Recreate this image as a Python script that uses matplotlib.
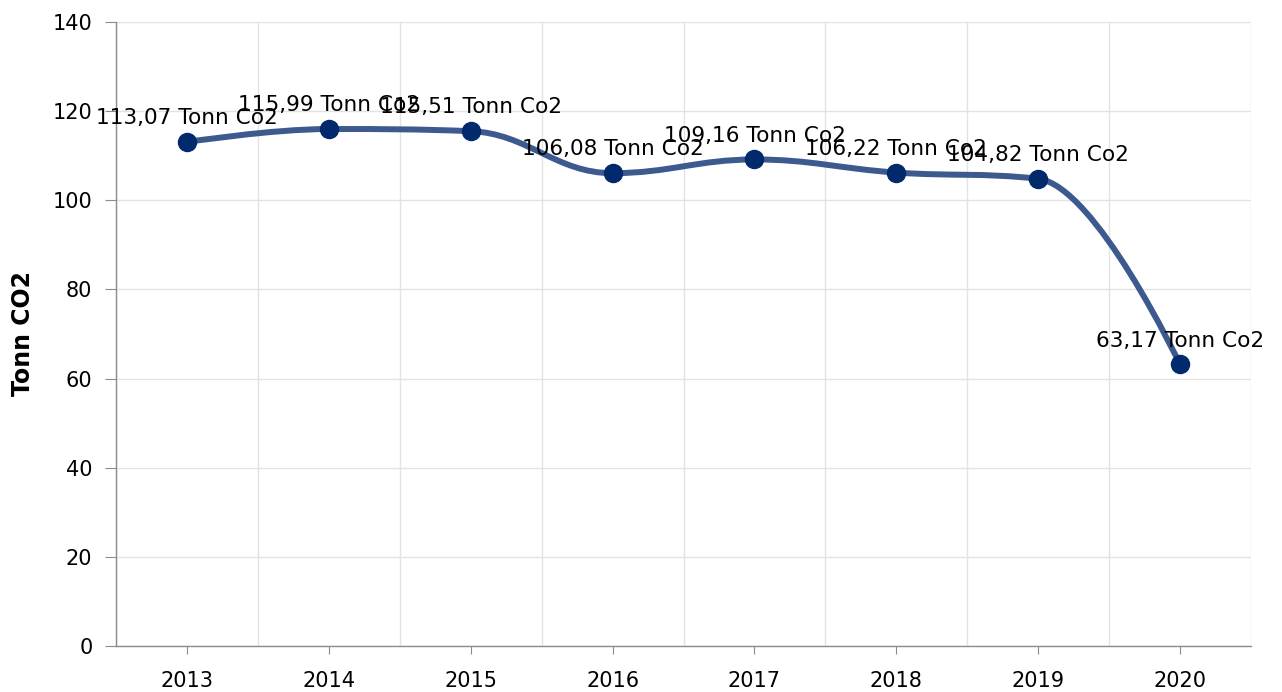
import matplotlib.pyplot as plt
from matplotlib.path import Path
from matplotlib.patches import PathPatch

years = ["2013", "2014", "2015", "2016", "2017", "2018", "2019", "2020"]
values = [113.07, 115.99, 115.51, 106.08, 109.16, 106.22, 104.82, 63.17]
labels = ["113,07 Tonn Co2", "115,99 Tonn Co2", "115,51 Tonn Co2", "106,08 Tonn Co2",
          "109,16 Tonn Co2", "106,22 Tonn Co2", "104,82 Tonn Co2", "63,17 Tonn Co2"]

LINE = "#3d5a8f"
MARK = "#002a6c"
GRID = "#e3e3e3"
AXIS = "#8c8c8c"

plt.rcParams['font.family'] = ['DejaVu Sans']


def spline_path(xs, ys, smoothing=1.5):
    # highcharts-like spline: bezier control points around each point
    denom = smoothing + 1
    n = len(xs)
    ctrl = []
    for i in range(n):
        if i == 0 or i == n - 1:
            ctrl.append((xs[i], ys[i], xs[i], ys[i]))
            continue
        x, y = xs[i], ys[i]
        lx, ly = xs[i - 1], ys[i - 1]
        nx, ny = xs[i + 1], ys[i + 1]
        lcx = (smoothing * x + lx) / denom
        lcy = (smoothing * y + ly) / denom
        rcx = (smoothing * x + nx) / denom
        rcy = (smoothing * y + ny) / denom
        corr = (rcy - lcy) * (rcx - x) / (rcx - lcx) + y - rcy
        lcy += corr
        rcy += corr
        if lcy > ly and lcy > y:
            lcy = max(ly, y)
            rcy = 2 * y - lcy
        elif lcy < ly and lcy < y:
            lcy = min(ly, y)
            rcy = 2 * y - lcy
        if rcy > ny and rcy > y:
            rcy = max(ny, y)
            lcy = 2 * y - rcy
        elif rcy < ny and rcy < y:
            rcy = min(ny, y)
            lcy = 2 * y - rcy
        ctrl.append((lcx, lcy, rcx, rcy))
    verts = [(xs[0], ys[0])]
    codes = [Path.MOVETO]
    for i in range(1, n):
        verts += [(ctrl[i - 1][2], ctrl[i - 1][3]), (ctrl[i][0], ctrl[i][1]), (xs[i], ys[i])]
        codes += [Path.CURVE4] * 3
    return Path(verts, codes)


fig = plt.figure(figsize=(12.82, 6.92), dpi=100)
ax = fig.add_axes([116 / 1282, 46 / 692, 1135 / 1282, 624 / 692])

x = list(range(len(years)))
ax.add_patch(PathPatch(spline_path(x, values), fill=False, edgecolor=LINE,
                       linewidth=4.3, capstyle='round', joinstyle='round', zorder=3))
ax.plot(x, values, linestyle='none', marker='o', markersize=13,
        color=MARK, zorder=4)

for xi, v, lab in zip(x, values, labels):
    ax.annotate(lab, (xi, v), xytext=(0, 10), textcoords='offset points',
                ha='center', va='bottom', fontsize=15.6, color='black', zorder=5)

ax.set_xlim(-0.5, len(years) - 0.5)
ax.set_ylim(0, 140)
ax.set_yticks(range(0, 141, 20))
ax.set_xticks(x)
ax.set_xticklabels(years)
ax.set_xticks([i + 0.5 for i in range(-1, len(years))], minor=True)

ax.grid(True, which='minor', axis='x', color=GRID, linewidth=1)
ax.grid(True, which='major', axis='y', color=GRID, linewidth=1)
ax.set_axisbelow(True)

for s in ['top', 'right']:
    ax.spines[s].set_visible(False)
for s in ['left', 'bottom']:
    ax.spines[s].set_color(AXIS)
    ax.spines[s].set_linewidth(1)

ax.tick_params(axis='y', length=8, color=AXIS, pad=9, labelsize=15)
ax.tick_params(axis='x', which='major', length=6, color=AXIS, pad=12, labelsize=15)
ax.tick_params(axis='x', which='minor', length=0)

ax.set_ylabel("Tonn CO2", fontsize=17, fontweight='bold', va='center')
ax.yaxis.set_label_coords(-0.082, 0.5)

plt.savefig("out.png", dpi=100)
plt.close()
